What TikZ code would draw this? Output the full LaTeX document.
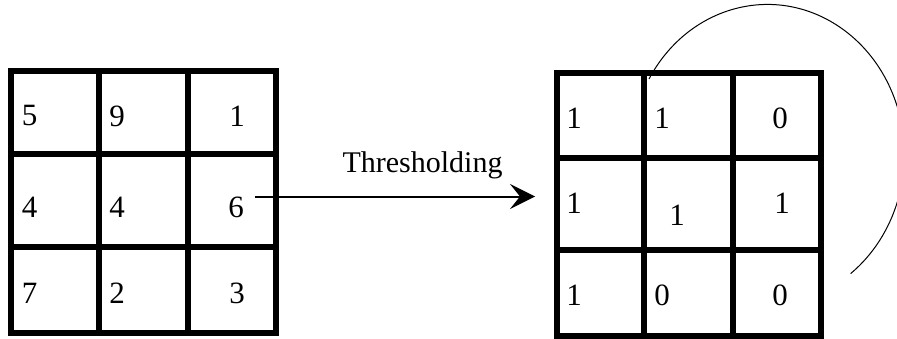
\documentclass[tikz,border=0pt]{standalone}
\usepackage{fontspec}
\setmainfont{Liberation Serif}
\usetikzlibrary{arrows.meta}
\begin{document}
\begin{tikzpicture}[x=1pt,y=1pt,
  gridline/.style={line width=6pt},
  val/.style={inner sep=0pt,font=\fontsize{31}{36}\selectfont},
  lab/.style={inner sep=0pt,font=\fontsize{30}{36}\selectfont},
  conn/.style={line width=2pt,-{Stealth[length=25pt,width=25pt,inset=10pt]}},
  loopline/.style={line width=1pt}]
\clip (0,0) rectangle (897,338);
\fill[white] (0,0) rectangle (897,338);
% left grid
\draw[gridline] (11,5) rectangle (276,267);
\draw[gridline] (98.7,5) -- (98.7,267);
\draw[gridline] (187.7,5) -- (187.7,267);
\draw[gridline] (11,184) -- (276,184);
\draw[gridline] (11,91) -- (276,91);
% right grid
\draw[gridline] (556.5,2) rectangle (820.5,265);
\draw[gridline] (644,2) -- (644,265);
\draw[gridline] (733,2) -- (733,265);
\draw[gridline] (556.5,180) -- (820.5,180);
\draw[gridline] (556.5,88) -- (820.5,88);
% left values
\node[val] (l11) at (29.5,222) {5};
\node[val] (l12) at (117,222) {9};
\node[val] (l13) at (237,222) {1};
\node[val] (l21) at (29.5,131) {4};
\node[val] (l22) at (117,131) {4};
\node[val] (l23) at (236,131) {6};
\node[val] (l31) at (29.5,45) {7};
\node[val] (l32) at (117,45) {2};
\node[val] (l33) at (237,45) {3};
% right values
\node[val] (r11) at (574,220) {1};
\node[val] (r12) at (662,220) {1};
\node[val] (r13) at (780,220) {0};
\node[val] (r21) at (574,135) {1};
\node[val] (r22) at (677,123) {1};
\node[val] (r23) at (782,135) {1};
\node[val] (r31) at (574,43) {1};
\node[val] (r32) at (662,43) {0};
\node[val] (r33) at (780,43) {0};
% arrow
\coordinate (astart) at (255,141.5);
\coordinate (aend) at (535,141.5);
\draw[conn] (astart) -- (aend);
\node[lab,anchor=base] (lbl) at (422.5,166) {Thresholding};
% loop arc
\coordinate (arcstart) at (649,259);
\draw[loopline] (arcstart) arc[start angle=149.8, end angle=-52.6, x radius=137pt, y radius=150pt];
\end{tikzpicture}
\end{document}
